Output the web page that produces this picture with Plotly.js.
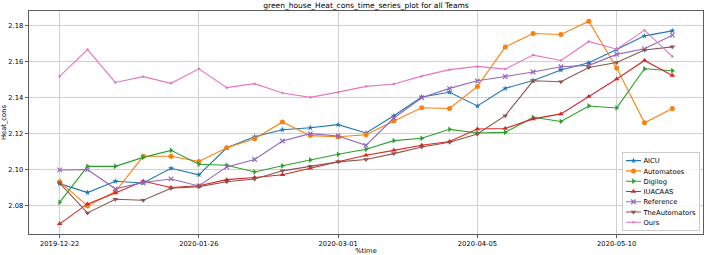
<!DOCTYPE html>
<html>
<head>
<meta charset="utf-8">
<script src="https://cdn.plot.ly/plotly-3.0.1.min.js"></script>
<style>
html,body{margin:0;padding:0;overflow:hidden;background:#fff;}
#wrap{width:705px;height:255px;overflow:hidden;}
#chart{width:1410px;height:510px;transform:scale(0.5);transform-origin:0 0;}
</style>
</head>
<body>
<div id="wrap"><div id="chart"></div></div>
<script>
// ---- data ----
const dates = ['2019-12-22','2019-12-29','2020-01-05','2020-01-12','2020-01-19','2020-01-26','2020-02-02','2020-02-09','2020-02-16','2020-02-23','2020-03-01','2020-03-08','2020-03-15','2020-03-22','2020-03-29','2020-04-05','2020-04-12','2020-04-19','2020-04-26','2020-05-03','2020-05-10','2020-05-17','2020-05-24'];
const xTickLabels = ['2019-12-22','2020-01-26','2020-03-01','2020-04-05','2020-05-10'];
const yTickValues = [2.08,2.10,2.12,2.14,2.16,2.18];

const AICU = [2.0922,2.0872,2.0935,2.0925,2.1007,2.0971,2.1121,2.1183,2.1222,2.1233,2.1250,2.1204,2.1300,2.1404,2.1430,2.1354,2.1452,2.1496,2.1554,2.1594,2.1668,2.1744,2.1772];
const Automatoes = [2.0933,2.0798,2.0878,2.1074,2.1074,2.1045,2.1121,2.1172,2.1265,2.1189,2.1183,2.1194,2.1270,2.1344,2.1340,2.1463,2.1682,2.1757,2.1752,2.1826,2.1565,2.1261,2.1340];
const Digilog = [2.0818,2.1018,2.1018,2.1068,2.1107,2.1030,2.1024,2.0987,2.1021,2.1054,2.1085,2.1113,2.1161,2.1174,2.1224,2.1204,2.1207,2.1291,2.1268,2.1354,2.1343,2.1561,2.1550];
const IUACAAS = [2.0698,2.0809,2.0870,2.0935,2.0900,2.0910,2.0944,2.0956,2.0971,2.1007,2.1043,2.1080,2.1107,2.1135,2.1156,2.1226,2.1229,2.1282,2.1310,2.1406,2.1504,2.1607,2.1524];
const Reference = [2.0998,2.1000,2.0893,2.0928,2.0948,2.0909,2.1015,2.1056,2.1159,2.1200,2.1187,2.1135,2.1287,2.1400,2.1452,2.1494,2.1518,2.1543,2.1572,2.1580,2.1641,2.1672,2.1748];
const TheAutomators = [2.0925,2.0759,2.0835,2.0829,2.0896,2.0905,2.0932,2.0948,2.0993,2.1018,2.1043,2.1056,2.1089,2.1126,2.1152,2.1198,2.1300,2.1494,2.1489,2.1568,2.1596,2.1665,2.1683];
const Ours = [2.1519,2.1668,2.1485,2.1517,2.1480,2.1561,2.1456,2.1478,2.1426,2.1402,2.1431,2.1463,2.1476,2.1520,2.1556,2.1574,2.1559,2.1637,2.1607,2.1713,2.1670,2.1776,2.1629];

// ---- styles ----
const series = [
  {name:'AICU', y:AICU, color:'#1f77b4', symbol:'star', size:9},
  {name:'Automatoes', y:Automatoes, color:'#ff7f0e', symbol:'circle', size:10},
  {name:'Digilog', y:Digilog, color:'#2ca02c', symbol:'triangle-right', size:10},
  {name:'IUACAAS', y:IUACAAS, color:'#d62728', symbol:'triangle-up', size:10},
  {name:'Reference', y:Reference, color:'#9467bd', symbol:'x-thin', size:9},
  {name:'TheAutomators', y:TheAutomators, color:'#8c564b', symbol:'triangle-down', size:10},
  {name:'Ours', y:Ours, color:'#e377c2', symbol:'circle', size:5}
];

const traces = series.map(s => ({
  type:'scatter', mode:'lines+markers', name:s.name, x:dates, y:s.y,
  line:{color:s.color, width:2.2},
  marker:{symbol:s.symbol, size:s.size, color:s.color,
          line:{color:s.color, width: s.symbol==='x-thin' ? 2.4 : 0}}
}));

// matplotlib-like 5% margins
function pad(lo, hi){ const d = hi-lo; return [lo-0.05*d, hi+0.05*d]; }
const tms = dates.map(d => Date.parse(d+'T00:00:00Z'));
const xr = pad(Math.min(...tms), Math.max(...tms)).map(v => new Date(v).toISOString().replace('T',' ').replace('Z',''));
const allY = series.flatMap(s => s.y);
const yr = pad(Math.min(...allY), Math.max(...allY));

const F = 'DejaVu Sans, sans-serif';
const axisCommon = {
  showline:true, mirror:true, linecolor:'#333', linewidth:1.6,
  ticks:'outside', ticklen:7, tickwidth:1.6, tickcolor:'#333',
  showgrid:true, gridcolor:'#d0d0d0', gridwidth:2, zeroline:false,
  tickfont:{family:F, size:13.5, color:'#000'}
};

const layout = {
  width:1410, height:510,
  margin:{l:58, r:4, t:22, b:42},
  paper_bgcolor:'#fff', plot_bgcolor:'#fff',
  font:{family:F, color:'#000'},
  title:{text:'green_house_Heat_cons_time_series_plot for all Teams', font:{family:F, size:15, color:'#000'},
         x:0.5, xref:'paper', xanchor:'center', y:0.98, yref:'container', yanchor:'middle'},
  xaxis:Object.assign({}, axisCommon, {type:'date', range:xr, tickvals:xTickLabels, ticktext:xTickLabels,
         title:{text:'%time', font:{family:F, size:13.5, color:'#000'}, standoff:6}}),
  yaxis:Object.assign({}, axisCommon, {range:yr, tickvals:yTickValues, tickformat:'.2f',
         title:{text:'Heat_cons', font:{family:F, size:13.5, color:'#000'}, standoff:4}}),
  showlegend:true,
  legend:{x:0.9955, y:0.0135, xanchor:'right', yanchor:'bottom', bgcolor:'rgba(255,255,255,0.85)',
          bordercolor:'#cccccc', borderwidth:2, font:{family:F, size:13.5, color:'#000'}, tracegroupgap:0}
};

Plotly.newPlot('chart', traces, layout, {displayModeBar:false, staticPlot:true});
</script>
</body>
</html>
